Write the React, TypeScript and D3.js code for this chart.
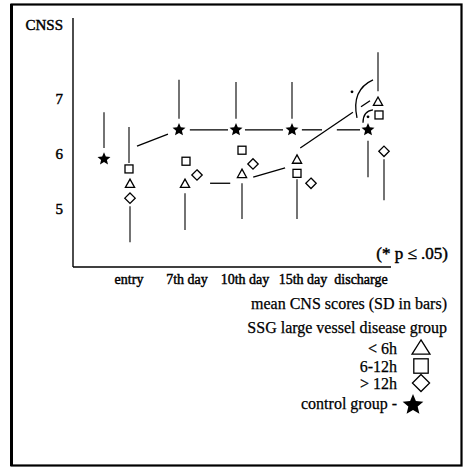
import React from 'react'
import * as d3 from 'd3'

// CNSS over time, mean scores with SD bars
const categories = ['entry', '7th day', '10th day', '15th day', 'discharge']
const yTicks = [5, 6, 7]

const control = [5.91, 6.44, 6.44, 6.44, 6.44]
const lt6h = [5.47, 5.47, 5.65, 5.91, 6.96]
const h6to12 = [5.73, 5.87, 6.07, 5.65, 6.71]
const gt12h = [5.2, 5.62, 5.82, 5.47, 6.05]

// SD bars: series, category index, end value
const sdBars: [string, number, number][] = [
    ['control', 0, 6.76], ['control', 1, 7.35], ['control', 2, 7.31], ['control', 3, 7.31], ['control', 4, 5.58],
    ['h6to12', 0, 6.49], ['gt12h', 0, 4.4], ['lt6h', 1, 4.62], ['lt6h', 2, 4.82],
    ['h6to12', 3, 4.82], ['lt6h', 4, 7.85], ['gt12h', 4, 5.16],
]

// control line pieces: from category i to i+1, drawn between fractions t0..t1
const controlPieces: [number, number, number][] = [
    [0, 0.44, 0.853], [1, 0.19, 0.86], [2, 0.16, 0.84], [3, 0.13, 0.395], [3, 0.59, 0.895],
]

// SSG trend pieces in [slot, value]
const ssgTrend: [number, number][][] = [
    [[1.43, 5.47], [1.79, 5.47]],
    [[2.2, 5.58], [2.77, 5.75]],
    [[3.04, 6.11], [3.98, 6.76]],
]

const legendRows = [
    { label: '< 6h', shape: 'tri' },
    { label: '6-12h', shape: 'sq' },
    { label: '> 12h', shape: 'dia' },
    { label: 'control group -', shape: 'star' },
]

// layout: per-series horizontal dodge in px for each category
const DODGE: Record<string, number[]> = {
    control: [-26, -7, -6, -6, 14],
    lt6h: [0, -1, 0, -1, 24],
    h6to12: [-1, 0, 0, -1, 25],
    gt12h: [0, 11, 11, 13, 30],
}
const GAP: Record<string, number> = { control: 11, lt6h: 10, h6to12: 6, gt12h: 8 }
const LEGEND_SCALE: Record<string, number> = { tri: 1.95, sq: 1.8, dia: 1.65, star: 1.6 }

const FONT = "'Liberation Serif', 'Times New Roman', serif"
// scanned print looks heavy: thicken regular serif with a hairline stroke
const heavy = { stroke: '#000', strokeWidth: 0.45 }
const medium = { stroke: '#000', strokeWidth: 0.25 }

const starPath = (cx: number, cy: number, R: number, ratio = 0.45) => {
    const pts: [number, number][] = d3.range(10).map(i => [i * Math.PI / 5, i % 2 ? R * ratio : R])
    const p = d3.lineRadial().curve(d3.curveLinearClosed)(pts) || ''
    return { d: p, transform: `translate(${cx},${cy})` }
}

const Marker = ({ shape, x, y, s = 1 }: { shape: string, x: number, y: number, s?: number }) => {
    if (shape === 'star') {
        const st = starPath(x, y, 6.8 * s)
        return <path d={st.d} transform={st.transform} fill="#000" />
    }
    if (shape === 'tri') {
        const w = 4.6 * s, h = 4.2 * Math.min(s, 1.7)
        return <path d={`M ${x} ${y - h} L ${x + w} ${y + h} L ${x - w} ${y + h} Z`} fill="#fff" stroke="#000" strokeWidth={1.3} />
    }
    if (shape === 'sq') {
        const h = 4 * s
        return <rect x={x - h} y={y - h} width={2 * h} height={2 * h} fill="#fff" stroke="#000" strokeWidth={1.3} />
    }
    const r = 5.2 * s
    return <path d={`M ${x} ${y - r} L ${x + r} ${y} L ${x} ${y + r} L ${x - r} ${y} Z`} fill="#fff" stroke="#000" strokeWidth={1.3} />
}

export default function App() {
    const x = d3.scalePoint<string>().domain(categories).range([130, 354])
    const xSlot = d3.scaleLinear().domain([0, 4]).range([130, 354])
    const xLabel = d3.scalePoint<string>().domain(categories).range([129, 361])
    const y = d3.scaleLinear().domain([3.95, 8.47]).range([267, 18])

    const series: Record<string, { values: number[], shape: string }> = {
        control: { values: control, shape: 'star' },
        lt6h: { values: lt6h, shape: 'tri' },
        h6to12: { values: h6to12, shape: 'sq' },
        gt12h: { values: gt12h, shape: 'dia' },
    }
    const px = (k: string, i: number) => (x(categories[i]) as number) + DODGE[k][i]
    const py = (k: string, i: number) => y(series[k].values[i])

    const line = d3.line()
    const sx = px('control', 4), sy = py('control', 4)

    return (
        <svg width={464} height={471} style={{ position: 'absolute', left: 0, top: 0, background: '#fff', fontFamily: FONT }}>
            <rect x={11.5} y={4.5} width={450} height={461} fill="none" stroke="#000" strokeWidth={2.2} />
            <line x1={11.5} x2={11.5} y1={4} y2={466} stroke="#000" strokeWidth={3} />

            {/* axes */}
            <line x1={73} x2={73} y1={y(8.47)} y2={y(3.95)} stroke="#000" strokeWidth={1.4} />
            <line x1={73} x2={391} y1={y(3.95)} y2={y(3.95)} stroke="#000" strokeWidth={1.6} />
            <text x={63} y={25} dy="0.35em" textAnchor="end" fontSize={15} {...heavy}>CNSS</text>
            {yTicks.map(t => (
                <text key={t} x={63} y={y(t)} dy="0.35em" textAnchor="end" fontSize={15} {...heavy}>{t}</text>
            ))}
            {categories.map(c => (
                <text key={c} x={xLabel(c)} y={279} dy="0.35em" textAnchor="middle" fontSize={14} {...heavy}>{c}</text>
            ))}

            {/* SD bars */}
            {sdBars.map(([k, i, end], j) => {
                const cx = px(k, i), cy = py(k, i)
                const dir = y(end) < cy ? -1 : 1
                return <line key={j} x1={cx} x2={cx} y1={cy + dir * GAP[k]} y2={y(end)} stroke="#000" strokeWidth={1.1} />
            })}

            {/* control line */}
            {controlPieces.map(([i, t0, t1], j) => {
                const a: [number, number] = [px('control', i), py('control', i)]
                const b: [number, number] = [px('control', i + 1), py('control', i + 1)]
                const at = (t: number): [number, number] => [a[0] + (b[0] - a[0]) * t, a[1] + (b[1] - a[1]) * t]
                return <path key={j} d={line([at(t0), at(t1)]) || ''} stroke="#000" strokeWidth={1.3} fill="none" />
            })}
            {ssgTrend.map((seg, j) => (
                <path key={j} d={line(seg.map(([s, v]) => [xSlot(s), y(v)])) || ''} stroke="#000" strokeWidth={1.3} fill="none" />
            ))}

            {/* markers */}
            {Object.entries(series).map(([k, s]) => s.values.map((v, i) => (
                <Marker key={k + i} shape={s.shape} x={px(k, i)} y={y(v)} />
            )))}

            {/* significance marks at discharge */}
            <g stroke="#000" strokeWidth={1.3} fill="none">
                <path d={`M ${sx + 5} ${sy - 50} Q ${sx - 17} ${sy - 40} ${sx - 11} ${sy - 12}`} />
                <path d={`M ${sx - 7} ${sy - 23} L ${sx + 2} ${sy - 29}`} />
                <path d={`M ${sx + 5} ${sy - 20} Q ${sx - 5} ${sy - 19} ${sx - 5} ${sy - 7}`} />
            </g>
            <circle cx={sx - 16} cy={sy - 38} r={1.4} fill="#000" />
            <circle cx={sx} cy={sy - 13} r={1.4} fill="#000" />

            <text x={448} y={253} dy="0.35em" textAnchor="end" fontSize={17} {...heavy}>(* p ≤ .05)</text>

            {/* legend */}
            <text x={447} y={303} dy="0.35em" textAnchor="end" fontSize={16} {...medium}>mean CNS scores (SD in bars)</text>
            <text x={447} y={327} dy="0.35em" textAnchor="end" fontSize={16} {...medium}>SSG large vessel disease group</text>
            {legendRows.map((r, i) => (
                <g key={r.label}>
                    <text x={397} y={[348, 366, 383, 403][i]} dy="0.35em" textAnchor="end" fontSize={16} {...medium}>{r.label}</text>
                    <Marker shape={r.shape} x={r.shape === 'star' ? 413 : 421} y={[347, 366, 383, 405][i]} s={LEGEND_SCALE[r.shape]} />
                </g>
            ))}
        </svg>
    )
}
